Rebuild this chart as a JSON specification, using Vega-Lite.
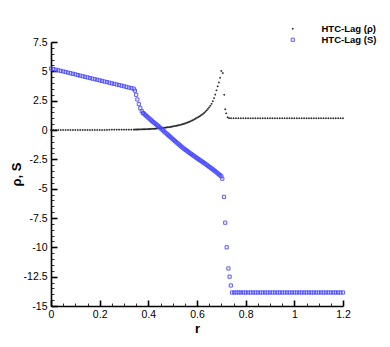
{
"$schema": "https://vega.github.io/schema/vega-lite/v6.json",
"width": 292, "height": 264,
"autosize": "none",
"padding": {"left": 51, "top": 42, "right": 47, "bottom": 41},
"config": {"view": {"stroke": null}, "font": "Liberation Sans"},
"data": {"values": [
{"r":0,"v":0,"s":"HTC-Lag (ρ)"},{"r":0.01,"v":0,"s":"HTC-Lag (ρ)"},{"r":0.02,"v":0,"s":"HTC-Lag (ρ)"},{"r":0.03,"v":0,"s":"HTC-Lag (ρ)"},{"r":0.04,"v":0,"s":"HTC-Lag (ρ)"},{"r":0.05,"v":0,"s":"HTC-Lag (ρ)"},{"r":0.06,"v":0,"s":"HTC-Lag (ρ)"},{"r":0.07,"v":0,"s":"HTC-Lag (ρ)"},{"r":0.08,"v":0,"s":"HTC-Lag (ρ)"},{"r":0.09,"v":0,"s":"HTC-Lag (ρ)"},
{"r":0.1,"v":0,"s":"HTC-Lag (ρ)"},{"r":0.11,"v":0,"s":"HTC-Lag (ρ)"},{"r":0.12,"v":0,"s":"HTC-Lag (ρ)"},{"r":0.13,"v":0,"s":"HTC-Lag (ρ)"},{"r":0.14,"v":0,"s":"HTC-Lag (ρ)"},{"r":0.15,"v":0,"s":"HTC-Lag (ρ)"},{"r":0.16,"v":0,"s":"HTC-Lag (ρ)"},{"r":0.17,"v":0,"s":"HTC-Lag (ρ)"},{"r":0.18,"v":0,"s":"HTC-Lag (ρ)"},{"r":0.19,"v":0,"s":"HTC-Lag (ρ)"},
{"r":0.2,"v":0,"s":"HTC-Lag (ρ)"},{"r":0.21,"v":0,"s":"HTC-Lag (ρ)"},{"r":0.22,"v":0,"s":"HTC-Lag (ρ)"},{"r":0.23,"v":0.01,"s":"HTC-Lag (ρ)"},{"r":0.24,"v":0.02,"s":"HTC-Lag (ρ)"},{"r":0.25,"v":0.03,"s":"HTC-Lag (ρ)"},{"r":0.26,"v":0.03,"s":"HTC-Lag (ρ)"},{"r":0.27,"v":0.03,"s":"HTC-Lag (ρ)"},{"r":0.28,"v":0.03,"s":"HTC-Lag (ρ)"},{"r":0.29,"v":0.03,"s":"HTC-Lag (ρ)"},
{"r":0.3,"v":0.03,"s":"HTC-Lag (ρ)"},{"r":0.31,"v":0.03,"s":"HTC-Lag (ρ)"},{"r":0.32,"v":0.03,"s":"HTC-Lag (ρ)"},{"r":0.33,"v":0.03,"s":"HTC-Lag (ρ)"},{"r":0.34,"v":0.03,"s":"HTC-Lag (ρ)"},
{"r":0.345,"v":0.04,"s":"HTC-Lag (ρ)"},{"r":0.35,"v":0.04,"s":"HTC-Lag (ρ)"},{"r":0.355,"v":0.04,"s":"HTC-Lag (ρ)"},{"r":0.36,"v":0.05,"s":"HTC-Lag (ρ)"},{"r":0.365,"v":0.05,"s":"HTC-Lag (ρ)"},{"r":0.37,"v":0.05,"s":"HTC-Lag (ρ)"},{"r":0.375,"v":0.06,"s":"HTC-Lag (ρ)"},{"r":0.38,"v":0.06,"s":"HTC-Lag (ρ)"},{"r":0.385,"v":0.06,"s":"HTC-Lag (ρ)"},{"r":0.39,"v":0.07,"s":"HTC-Lag (ρ)"},
{"r":0.395,"v":0.07,"s":"HTC-Lag (ρ)"},{"r":0.4,"v":0.08,"s":"HTC-Lag (ρ)"},{"r":0.405,"v":0.08,"s":"HTC-Lag (ρ)"},{"r":0.41,"v":0.09,"s":"HTC-Lag (ρ)"},{"r":0.415,"v":0.1,"s":"HTC-Lag (ρ)"},{"r":0.42,"v":0.1,"s":"HTC-Lag (ρ)"},{"r":0.425,"v":0.11,"s":"HTC-Lag (ρ)"},{"r":0.43,"v":0.12,"s":"HTC-Lag (ρ)"},{"r":0.435,"v":0.13,"s":"HTC-Lag (ρ)"},{"r":0.44,"v":0.14,"s":"HTC-Lag (ρ)"},
{"r":0.445,"v":0.15,"s":"HTC-Lag (ρ)"},{"r":0.45,"v":0.16,"s":"HTC-Lag (ρ)"},{"r":0.455,"v":0.17,"s":"HTC-Lag (ρ)"},{"r":0.46,"v":0.18,"s":"HTC-Lag (ρ)"},{"r":0.465,"v":0.19,"s":"HTC-Lag (ρ)"},{"r":0.47,"v":0.2,"s":"HTC-Lag (ρ)"},{"r":0.475,"v":0.22,"s":"HTC-Lag (ρ)"},{"r":0.48,"v":0.23,"s":"HTC-Lag (ρ)"},{"r":0.485,"v":0.24,"s":"HTC-Lag (ρ)"},{"r":0.49,"v":0.26,"s":"HTC-Lag (ρ)"},
{"r":0.495,"v":0.28,"s":"HTC-Lag (ρ)"},{"r":0.5,"v":0.3,"s":"HTC-Lag (ρ)"},{"r":0.505,"v":0.32,"s":"HTC-Lag (ρ)"},{"r":0.51,"v":0.34,"s":"HTC-Lag (ρ)"},{"r":0.515,"v":0.36,"s":"HTC-Lag (ρ)"},{"r":0.52,"v":0.38,"s":"HTC-Lag (ρ)"},{"r":0.525,"v":0.4,"s":"HTC-Lag (ρ)"},{"r":0.53,"v":0.43,"s":"HTC-Lag (ρ)"},{"r":0.535,"v":0.46,"s":"HTC-Lag (ρ)"},{"r":0.54,"v":0.49,"s":"HTC-Lag (ρ)"},
{"r":0.545,"v":0.52,"s":"HTC-Lag (ρ)"},{"r":0.55,"v":0.55,"s":"HTC-Lag (ρ)"},{"r":0.555,"v":0.59,"s":"HTC-Lag (ρ)"},{"r":0.56,"v":0.63,"s":"HTC-Lag (ρ)"},{"r":0.565,"v":0.67,"s":"HTC-Lag (ρ)"},{"r":0.57,"v":0.71,"s":"HTC-Lag (ρ)"},{"r":0.575,"v":0.76,"s":"HTC-Lag (ρ)"},{"r":0.58,"v":0.81,"s":"HTC-Lag (ρ)"},{"r":0.585,"v":0.86,"s":"HTC-Lag (ρ)"},{"r":0.59,"v":0.92,"s":"HTC-Lag (ρ)"},
{"r":0.595,"v":0.98,"s":"HTC-Lag (ρ)"},{"r":0.6,"v":1.04,"s":"HTC-Lag (ρ)"},{"r":0.605,"v":1.1,"s":"HTC-Lag (ρ)"},{"r":0.61,"v":1.16,"s":"HTC-Lag (ρ)"},{"r":0.615,"v":1.23,"s":"HTC-Lag (ρ)"},{"r":0.62,"v":1.3,"s":"HTC-Lag (ρ)"},{"r":0.625,"v":1.38,"s":"HTC-Lag (ρ)"},{"r":0.63,"v":1.47,"s":"HTC-Lag (ρ)"},{"r":0.635,"v":1.57,"s":"HTC-Lag (ρ)"},{"r":0.64,"v":1.68,"s":"HTC-Lag (ρ)"},
{"r":0.645,"v":1.8,"s":"HTC-Lag (ρ)"},{"r":0.65,"v":1.93,"s":"HTC-Lag (ρ)"},{"r":0.655,"v":2.07,"s":"HTC-Lag (ρ)"},{"r":0.66,"v":2.23,"s":"HTC-Lag (ρ)"},{"r":0.665,"v":2.45,"s":"HTC-Lag (ρ)"},{"r":0.67,"v":2.72,"s":"HTC-Lag (ρ)"},{"r":0.675,"v":3.02,"s":"HTC-Lag (ρ)"},{"r":0.68,"v":3.38,"s":"HTC-Lag (ρ)"},{"r":0.685,"v":3.72,"s":"HTC-Lag (ρ)"},{"r":0.69,"v":4.05,"s":"HTC-Lag (ρ)"},
{"r":0.695,"v":4.45,"s":"HTC-Lag (ρ)"},{"r":0.7,"v":5.03,"s":"HTC-Lag (ρ)"},{"r":0.706,"v":4.85,"s":"HTC-Lag (ρ)"},{"r":0.712,"v":3.0,"s":"HTC-Lag (ρ)"},{"r":0.716,"v":1.77,"s":"HTC-Lag (ρ)"},{"r":0.72,"v":1.42,"s":"HTC-Lag (ρ)"},{"r":0.726,"v":1.08,"s":"HTC-Lag (ρ)"},{"r":0.732,"v":1.01,"s":"HTC-Lag (ρ)"},
{"r":0.74,"v":1,"s":"HTC-Lag (ρ)"},{"r":0.75,"v":1,"s":"HTC-Lag (ρ)"},{"r":0.76,"v":1,"s":"HTC-Lag (ρ)"},{"r":0.77,"v":1,"s":"HTC-Lag (ρ)"},{"r":0.78,"v":1,"s":"HTC-Lag (ρ)"},{"r":0.79,"v":1,"s":"HTC-Lag (ρ)"},{"r":0.8,"v":1,"s":"HTC-Lag (ρ)"},{"r":0.81,"v":1,"s":"HTC-Lag (ρ)"},{"r":0.82,"v":1,"s":"HTC-Lag (ρ)"},{"r":0.83,"v":1,"s":"HTC-Lag (ρ)"},
{"r":0.84,"v":1,"s":"HTC-Lag (ρ)"},{"r":0.85,"v":1,"s":"HTC-Lag (ρ)"},{"r":0.86,"v":1,"s":"HTC-Lag (ρ)"},{"r":0.87,"v":1,"s":"HTC-Lag (ρ)"},{"r":0.88,"v":1,"s":"HTC-Lag (ρ)"},{"r":0.89,"v":1,"s":"HTC-Lag (ρ)"},{"r":0.9,"v":1,"s":"HTC-Lag (ρ)"},{"r":0.91,"v":1,"s":"HTC-Lag (ρ)"},{"r":0.92,"v":1,"s":"HTC-Lag (ρ)"},{"r":0.93,"v":1,"s":"HTC-Lag (ρ)"},
{"r":0.94,"v":1,"s":"HTC-Lag (ρ)"},{"r":0.95,"v":1,"s":"HTC-Lag (ρ)"},{"r":0.96,"v":1,"s":"HTC-Lag (ρ)"},{"r":0.97,"v":1,"s":"HTC-Lag (ρ)"},{"r":0.98,"v":1,"s":"HTC-Lag (ρ)"},{"r":0.99,"v":1,"s":"HTC-Lag (ρ)"},{"r":1.0,"v":1,"s":"HTC-Lag (ρ)"},{"r":1.01,"v":1,"s":"HTC-Lag (ρ)"},{"r":1.02,"v":1,"s":"HTC-Lag (ρ)"},{"r":1.03,"v":1,"s":"HTC-Lag (ρ)"},
{"r":1.04,"v":1,"s":"HTC-Lag (ρ)"},{"r":1.05,"v":1,"s":"HTC-Lag (ρ)"},{"r":1.06,"v":1,"s":"HTC-Lag (ρ)"},{"r":1.07,"v":1,"s":"HTC-Lag (ρ)"},{"r":1.08,"v":1,"s":"HTC-Lag (ρ)"},{"r":1.09,"v":1,"s":"HTC-Lag (ρ)"},{"r":1.1,"v":1,"s":"HTC-Lag (ρ)"},{"r":1.11,"v":1,"s":"HTC-Lag (ρ)"},{"r":1.12,"v":1,"s":"HTC-Lag (ρ)"},{"r":1.13,"v":1,"s":"HTC-Lag (ρ)"},
{"r":1.14,"v":1,"s":"HTC-Lag (ρ)"},{"r":1.15,"v":1,"s":"HTC-Lag (ρ)"},{"r":1.16,"v":1,"s":"HTC-Lag (ρ)"},{"r":1.17,"v":1,"s":"HTC-Lag (ρ)"},{"r":1.18,"v":1,"s":"HTC-Lag (ρ)"},{"r":1.19,"v":1,"s":"HTC-Lag (ρ)"},{"r":1.2,"v":1,"s":"HTC-Lag (ρ)"},

{"r":0,"v":5.24,"s":"HTC-Lag (S)"},{"r":0.01,"v":5.19,"s":"HTC-Lag (S)"},{"r":0.02,"v":5.14,"s":"HTC-Lag (S)"},{"r":0.03,"v":5.09,"s":"HTC-Lag (S)"},{"r":0.04,"v":5.04,"s":"HTC-Lag (S)"},{"r":0.05,"v":4.99,"s":"HTC-Lag (S)"},{"r":0.06,"v":4.94,"s":"HTC-Lag (S)"},{"r":0.07,"v":4.89,"s":"HTC-Lag (S)"},{"r":0.08,"v":4.84,"s":"HTC-Lag (S)"},{"r":0.09,"v":4.79,"s":"HTC-Lag (S)"},
{"r":0.1,"v":4.74,"s":"HTC-Lag (S)"},{"r":0.11,"v":4.68,"s":"HTC-Lag (S)"},{"r":0.12,"v":4.63,"s":"HTC-Lag (S)"},{"r":0.13,"v":4.58,"s":"HTC-Lag (S)"},{"r":0.14,"v":4.53,"s":"HTC-Lag (S)"},{"r":0.15,"v":4.48,"s":"HTC-Lag (S)"},{"r":0.16,"v":4.43,"s":"HTC-Lag (S)"},{"r":0.17,"v":4.38,"s":"HTC-Lag (S)"},{"r":0.18,"v":4.33,"s":"HTC-Lag (S)"},{"r":0.19,"v":4.28,"s":"HTC-Lag (S)"},
{"r":0.2,"v":4.23,"s":"HTC-Lag (S)"},{"r":0.21,"v":4.18,"s":"HTC-Lag (S)"},{"r":0.22,"v":4.13,"s":"HTC-Lag (S)"},{"r":0.23,"v":4.08,"s":"HTC-Lag (S)"},{"r":0.24,"v":4.03,"s":"HTC-Lag (S)"},{"r":0.25,"v":3.98,"s":"HTC-Lag (S)"},{"r":0.26,"v":3.93,"s":"HTC-Lag (S)"},{"r":0.27,"v":3.88,"s":"HTC-Lag (S)"},{"r":0.28,"v":3.83,"s":"HTC-Lag (S)"},{"r":0.29,"v":3.78,"s":"HTC-Lag (S)"},
{"r":0.3,"v":3.73,"s":"HTC-Lag (S)"},{"r":0.31,"v":3.67,"s":"HTC-Lag (S)"},{"r":0.32,"v":3.62,"s":"HTC-Lag (S)"},{"r":0.33,"v":3.57,"s":"HTC-Lag (S)"},{"r":0.34,"v":3.52,"s":"HTC-Lag (S)"},
{"r":0.345,"v":3.35,"s":"HTC-Lag (S)"},{"r":0.35,"v":3.0,"s":"HTC-Lag (S)"},{"r":0.355,"v":2.6,"s":"HTC-Lag (S)"},{"r":0.361,"v":2.2,"s":"HTC-Lag (S)"},{"r":0.367,"v":1.85,"s":"HTC-Lag (S)"},{"r":0.373,"v":1.6,"s":"HTC-Lag (S)"},{"r":0.378,"v":1.45,"s":"HTC-Lag (S)"},
{"r":0.38,"v":1.42,"s":"HTC-Lag (S)"},{"r":0.385,"v":1.33,"s":"HTC-Lag (S)"},{"r":0.39,"v":1.24,"s":"HTC-Lag (S)"},{"r":0.395,"v":1.14,"s":"HTC-Lag (S)"},{"r":0.4,"v":1.05,"s":"HTC-Lag (S)"},{"r":0.405,"v":0.96,"s":"HTC-Lag (S)"},{"r":0.41,"v":0.87,"s":"HTC-Lag (S)"},{"r":0.415,"v":0.77,"s":"HTC-Lag (S)"},{"r":0.42,"v":0.68,"s":"HTC-Lag (S)"},{"r":0.425,"v":0.6,"s":"HTC-Lag (S)"},
{"r":0.43,"v":0.52,"s":"HTC-Lag (S)"},{"r":0.435,"v":0.43,"s":"HTC-Lag (S)"},{"r":0.44,"v":0.35,"s":"HTC-Lag (S)"},{"r":0.445,"v":0.26,"s":"HTC-Lag (S)"},{"r":0.45,"v":0.16,"s":"HTC-Lag (S)"},{"r":0.455,"v":0.07,"s":"HTC-Lag (S)"},{"r":0.46,"v":-0.03,"s":"HTC-Lag (S)"},{"r":0.465,"v":-0.12,"s":"HTC-Lag (S)"},{"r":0.47,"v":-0.22,"s":"HTC-Lag (S)"},{"r":0.475,"v":-0.31,"s":"HTC-Lag (S)"},
{"r":0.48,"v":-0.4,"s":"HTC-Lag (S)"},{"r":0.485,"v":-0.49,"s":"HTC-Lag (S)"},{"r":0.49,"v":-0.58,"s":"HTC-Lag (S)"},{"r":0.495,"v":-0.67,"s":"HTC-Lag (S)"},{"r":0.5,"v":-0.77,"s":"HTC-Lag (S)"},{"r":0.505,"v":-0.86,"s":"HTC-Lag (S)"},{"r":0.51,"v":-0.95,"s":"HTC-Lag (S)"},{"r":0.515,"v":-1.04,"s":"HTC-Lag (S)"},{"r":0.52,"v":-1.13,"s":"HTC-Lag (S)"},{"r":0.525,"v":-1.22,"s":"HTC-Lag (S)"},
{"r":0.53,"v":-1.31,"s":"HTC-Lag (S)"},{"r":0.535,"v":-1.4,"s":"HTC-Lag (S)"},{"r":0.54,"v":-1.49,"s":"HTC-Lag (S)"},{"r":0.545,"v":-1.57,"s":"HTC-Lag (S)"},{"r":0.55,"v":-1.65,"s":"HTC-Lag (S)"},{"r":0.555,"v":-1.72,"s":"HTC-Lag (S)"},{"r":0.56,"v":-1.8,"s":"HTC-Lag (S)"},{"r":0.565,"v":-1.88,"s":"HTC-Lag (S)"},{"r":0.57,"v":-1.95,"s":"HTC-Lag (S)"},{"r":0.575,"v":-2.03,"s":"HTC-Lag (S)"},
{"r":0.58,"v":-2.1,"s":"HTC-Lag (S)"},{"r":0.585,"v":-2.18,"s":"HTC-Lag (S)"},{"r":0.59,"v":-2.25,"s":"HTC-Lag (S)"},{"r":0.595,"v":-2.33,"s":"HTC-Lag (S)"},{"r":0.6,"v":-2.4,"s":"HTC-Lag (S)"},{"r":0.605,"v":-2.47,"s":"HTC-Lag (S)"},{"r":0.61,"v":-2.54,"s":"HTC-Lag (S)"},{"r":0.615,"v":-2.61,"s":"HTC-Lag (S)"},{"r":0.62,"v":-2.68,"s":"HTC-Lag (S)"},{"r":0.625,"v":-2.75,"s":"HTC-Lag (S)"},
{"r":0.63,"v":-2.83,"s":"HTC-Lag (S)"},{"r":0.635,"v":-2.9,"s":"HTC-Lag (S)"},{"r":0.64,"v":-2.97,"s":"HTC-Lag (S)"},{"r":0.645,"v":-3.05,"s":"HTC-Lag (S)"},{"r":0.65,"v":-3.13,"s":"HTC-Lag (S)"},{"r":0.655,"v":-3.2,"s":"HTC-Lag (S)"},{"r":0.66,"v":-3.28,"s":"HTC-Lag (S)"},{"r":0.665,"v":-3.36,"s":"HTC-Lag (S)"},{"r":0.67,"v":-3.44,"s":"HTC-Lag (S)"},{"r":0.675,"v":-3.52,"s":"HTC-Lag (S)"},
{"r":0.68,"v":-3.6,"s":"HTC-Lag (S)"},{"r":0.685,"v":-3.69,"s":"HTC-Lag (S)"},{"r":0.69,"v":-3.78,"s":"HTC-Lag (S)"},{"r":0.695,"v":-3.86,"s":"HTC-Lag (S)"},{"r":0.7,"v":-3.95,"s":"HTC-Lag (S)"},
{"r":0.704,"v":-4.15,"s":"HTC-Lag (S)"},{"r":0.711,"v":-5.7,"s":"HTC-Lag (S)"},{"r":0.716,"v":-7.9,"s":"HTC-Lag (S)"},{"r":0.722,"v":-10.0,"s":"HTC-Lag (S)"},{"r":0.729,"v":-11.8,"s":"HTC-Lag (S)"},{"r":0.734,"v":-12.5,"s":"HTC-Lag (S)"},{"r":0.739,"v":-13.25,"s":"HTC-Lag (S)"},
{"r":0.744,"v":-13.85,"s":"HTC-Lag (S)"},{"r":0.753,"v":-13.85,"s":"HTC-Lag (S)"},{"r":0.762,"v":-13.85,"s":"HTC-Lag (S)"},{"r":0.771,"v":-13.85,"s":"HTC-Lag (S)"},{"r":0.78,"v":-13.85,"s":"HTC-Lag (S)"},{"r":0.79,"v":-13.85,"s":"HTC-Lag (S)"},{"r":0.8,"v":-13.85,"s":"HTC-Lag (S)"},{"r":0.81,"v":-13.85,"s":"HTC-Lag (S)"},{"r":0.82,"v":-13.85,"s":"HTC-Lag (S)"},{"r":0.83,"v":-13.85,"s":"HTC-Lag (S)"},
{"r":0.84,"v":-13.85,"s":"HTC-Lag (S)"},{"r":0.85,"v":-13.85,"s":"HTC-Lag (S)"},{"r":0.86,"v":-13.85,"s":"HTC-Lag (S)"},{"r":0.87,"v":-13.85,"s":"HTC-Lag (S)"},{"r":0.88,"v":-13.85,"s":"HTC-Lag (S)"},{"r":0.89,"v":-13.85,"s":"HTC-Lag (S)"},{"r":0.9,"v":-13.85,"s":"HTC-Lag (S)"},{"r":0.91,"v":-13.85,"s":"HTC-Lag (S)"},{"r":0.92,"v":-13.85,"s":"HTC-Lag (S)"},{"r":0.93,"v":-13.85,"s":"HTC-Lag (S)"},
{"r":0.94,"v":-13.85,"s":"HTC-Lag (S)"},{"r":0.95,"v":-13.85,"s":"HTC-Lag (S)"},{"r":0.96,"v":-13.85,"s":"HTC-Lag (S)"},{"r":0.97,"v":-13.85,"s":"HTC-Lag (S)"},{"r":0.98,"v":-13.85,"s":"HTC-Lag (S)"},{"r":0.99,"v":-13.85,"s":"HTC-Lag (S)"},{"r":1.0,"v":-13.85,"s":"HTC-Lag (S)"},{"r":1.01,"v":-13.85,"s":"HTC-Lag (S)"},{"r":1.02,"v":-13.85,"s":"HTC-Lag (S)"},{"r":1.03,"v":-13.85,"s":"HTC-Lag (S)"},
{"r":1.04,"v":-13.85,"s":"HTC-Lag (S)"},{"r":1.05,"v":-13.85,"s":"HTC-Lag (S)"},{"r":1.06,"v":-13.85,"s":"HTC-Lag (S)"},{"r":1.07,"v":-13.85,"s":"HTC-Lag (S)"},{"r":1.08,"v":-13.85,"s":"HTC-Lag (S)"},{"r":1.09,"v":-13.85,"s":"HTC-Lag (S)"},{"r":1.1,"v":-13.85,"s":"HTC-Lag (S)"},{"r":1.11,"v":-13.85,"s":"HTC-Lag (S)"},{"r":1.12,"v":-13.85,"s":"HTC-Lag (S)"},{"r":1.13,"v":-13.85,"s":"HTC-Lag (S)"},
{"r":1.14,"v":-13.85,"s":"HTC-Lag (S)"},{"r":1.15,"v":-13.85,"s":"HTC-Lag (S)"},{"r":1.16,"v":-13.85,"s":"HTC-Lag (S)"},{"r":1.17,"v":-13.85,"s":"HTC-Lag (S)"},{"r":1.18,"v":-13.85,"s":"HTC-Lag (S)"},{"r":1.19,"v":-13.85,"s":"HTC-Lag (S)"},{"r":1.2,"v":-13.85,"s":"HTC-Lag (S)"}
]},
"mark": {"type": "point", "opacity": 1},
"encoding": {
  "x": {"field": "r", "type": "quantitative",
    "scale": {"domain": [0, 1.2], "nice": false, "zero": false},
    "axis": {"title": "r", "titleFont": "Liberation Sans", "titleFontWeight": "bold", "titleFontSize": 13, "titleColor": "black", "titlePadding": 0,
      "values": [0,0.05,0.1,0.15,0.2,0.25,0.3,0.35,0.4,0.45,0.5,0.55,0.6,0.65,0.7,0.75,0.8,0.85,0.9,0.95,1,1.05,1.1,1.15,1.2],
      "labelExpr": "abs(datum.value*5 - round(datum.value*5)) < 1e-6 ? format(datum.value, '.1~f') : ''",
      "labelFont": "Liberation Sans", "labelFontSize": 10.5, "labelColor": "black", "labelPadding": 9, "labelFlush": false, "labelOverlap": false,
      "domainColor": "black", "domainWidth": 1.6, "tickColor": "black",
      "tickSize": {"condition": {"test": "abs(datum.value*5 - round(datum.value*5)) < 1e-6", "value": -6}, "value": -3},
      "tickWidth": {"condition": {"test": "abs(datum.value*5 - round(datum.value*5)) < 1e-6", "value": 1.6}, "value": 0.8},
      "grid": false}},
  "y": {"field": "v", "type": "quantitative",
    "scale": {"domain": [-15, 7.5], "nice": false, "zero": false},
    "axis": {"title": "ρ, S", "titleFont": "Liberation Sans", "titleFontWeight": "bold", "titleFontSize": 13, "titleColor": "black", "titlePadding": 0,
      "values": [-15,-14.5,-14,-13.5,-13,-12.5,-12,-11.5,-11,-10.5,-10,-9.5,-9,-8.5,-8,-7.5,-7,-6.5,-6,-5.5,-5,-4.5,-4,-3.5,-3,-2.5,-2,-1.5,-1,-0.5,0,0.5,1,1.5,2,2.5,3,3.5,4,4.5,5,5.5,6,6.5,7,7.5],
      "labelExpr": "abs(datum.value/2.5 - round(datum.value/2.5)) < 1e-6 ? replace(format(datum.value, '.1~f'), '−', '-') : ''",
      "labelFont": "Liberation Sans", "labelFontSize": 10.5, "labelColor": "black", "labelPadding": 10, "labelFlush": false, "labelOverlap": false,
      "domainColor": "black", "domainWidth": 1.6, "tickColor": "black",
      "tickSize": {"condition": {"test": "abs(datum.value/2.5 - round(datum.value/2.5)) < 1e-6", "value": -6}, "value": -3},
      "tickWidth": {"condition": {"test": "abs(datum.value/2.5 - round(datum.value/2.5)) < 1e-6", "value": 1.6}, "value": 0.8},
      "grid": false}},
  "shape": {"field": "s", "type": "nominal", "scale": {"domain": ["HTC-Lag (ρ)", "HTC-Lag (S)"], "range": ["cross", "square"]},
    "legend": {"title": null, "orient": "none", "legendX": 237, "legendY": -18, "padding": 0, "rowPadding": 0, "labelOffset": 24,
      "labelFont": "Liberation Sans", "labelFontWeight": "bold", "labelFontSize": 9.5, "labelColor": "black"}},
  "fill": {"field": "s", "type": "nominal", "scale": {"domain": ["HTC-Lag (ρ)", "HTC-Lag (S)"], "range": ["#222222", "transparent"]}},
  "stroke": {"field": "s", "type": "nominal", "scale": {"domain": ["HTC-Lag (ρ)", "HTC-Lag (S)"], "range": ["#222222", "#4848ff"]}},
  "strokeWidth": {"field": "s", "type": "nominal", "scale": {"domain": ["HTC-Lag (ρ)", "HTC-Lag (S)"], "range": [0.4, 0.9]}},
  "size": {"field": "s", "type": "nominal", "scale": {"domain": ["HTC-Lag (ρ)", "HTC-Lag (S)"], "range": [2, 10]}}
}
}
